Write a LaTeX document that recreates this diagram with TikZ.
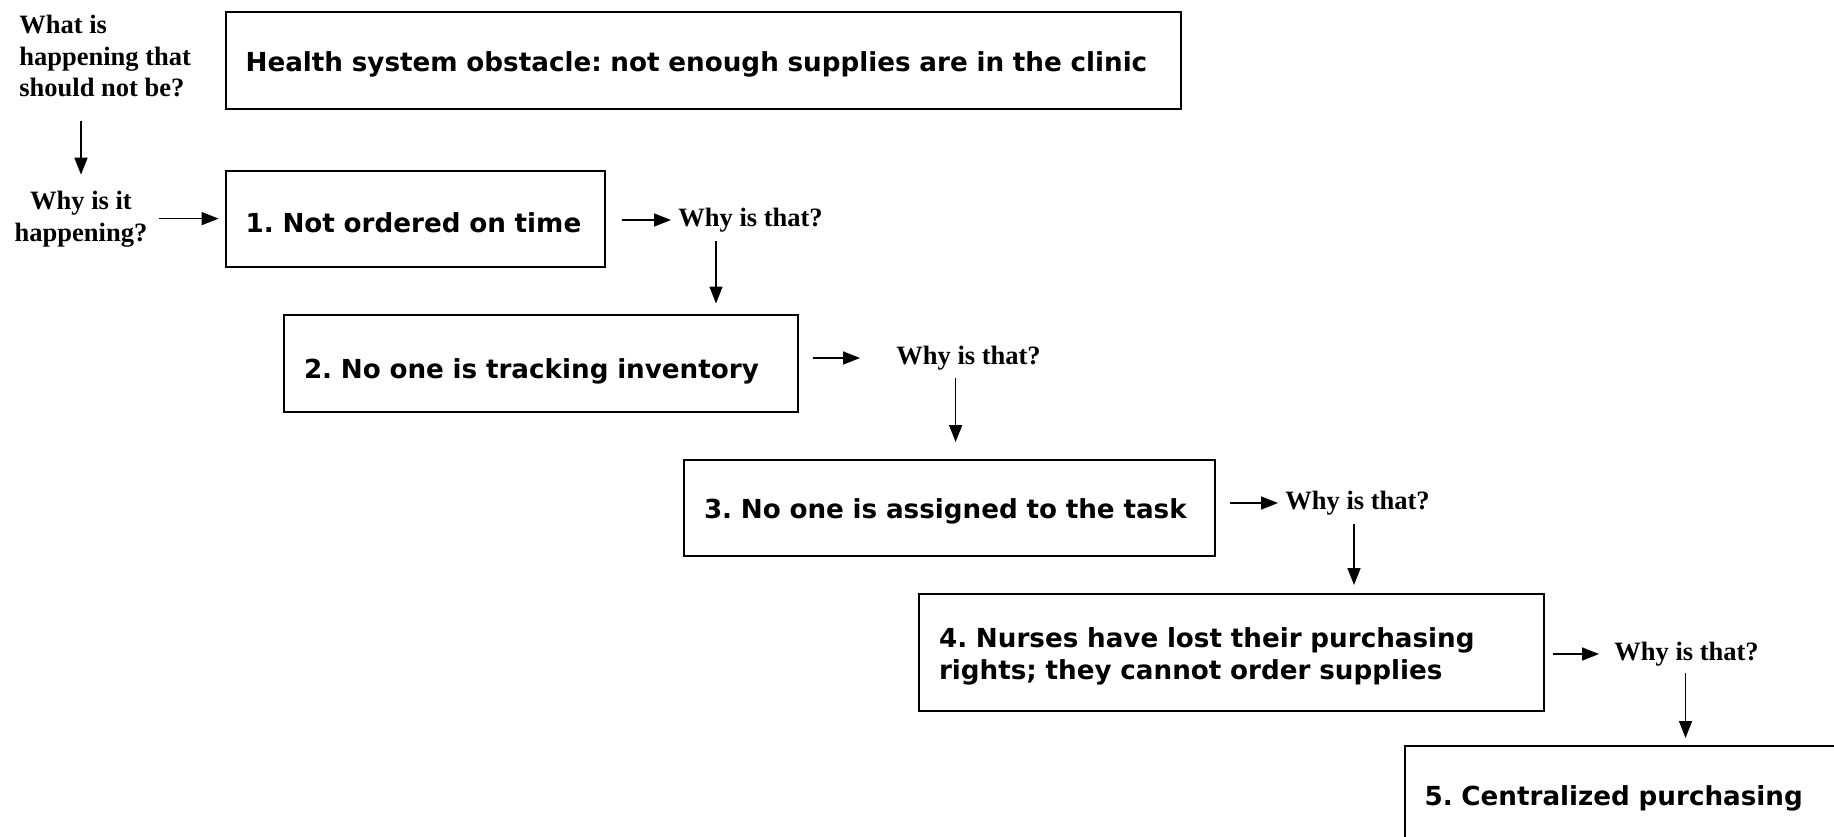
\documentclass[tikz,border=0pt]{standalone}
\usepackage{fontspec}
\setmainfont{Liberation Serif}
\setsansfont{DejaVu Sans}
\usetikzlibrary{arrows.meta,calc}

\tikzset{
	question/.style={font=\bfseries\fontsize{13.25}{15.8}\selectfont, inner sep=0pt},
	obstacle/.style={draw, line width=1pt, anchor=north west, inner xsep=10pt, inner ysep=0pt,
		align=left, font=\sffamily\bfseries\fontsize{13.1}{16}\selectfont,
		execute at begin node={\rule{0pt}{14pt}}},
	arr/.style={line width=0.8pt, -{Triangle[length=8.5pt, width=6.5pt]}}
}

\begin{document}
\frenchspacing
\begin{tikzpicture}[x=0.5pt, y=-0.5pt]
		\useasboundingbox (0, 0) rectangle (1834, 836);
		\clip (0, 0) rectangle (1834, 836);
		% the questions on the left
		\node[question, anchor=west, align=left] (what) at (19, 56) {What is\\happening that\\should not be?};
		\node[question, align=center] (why) at (81, 219) {Why is it\\happening?};
		% the boxes
		\node[obstacle, text width=457.5pt, minimum height=48.5pt] (obstacle) at (224.6, 10.5) {Health system obstacle: not enough supplies are in the clinic};
		\node[obstacle, text width=169.5pt, minimum height=48pt] (cause1) at (224.6, 169.6) {1. Not ordered on time};
		\node[obstacle, text width=236.75pt, minimum height=48.5pt, execute at begin node={\rule{0pt}{18pt}}] (cause2) at (283, 313.5) {2. No one is tracking inventory};
		\node[obstacle, text width=245.5pt, minimum height=48pt] (cause3) at (683, 458.5) {3. No one is assigned to the task};
		\node[obstacle, text width=292.5pt, minimum height=58.5pt] (cause4) at (918, 593) {4. Nurses have lost their purchasing\\rights; they cannot order supplies};
		\node[obstacle, text width=205pt, minimum height=48.5pt] (cause5) at (1403.5, 745) {5. Centralized purchasing};
		% the questions after each box
		\node[question, anchor=west] (that1) at (678, 220) {Why is that?};
		\node[question, anchor=west] (that2) at (896, 358) {Why is that?};
		\node[question, anchor=west] (that3) at (1285, 503) {Why is that?};
		\node[question, anchor=west] (that4) at (1614, 654) {Why is that?};
		% arrows
		\draw[arr] ($(what.south -| why.north) + (0, 24)$) -- ($(why.north) + (0, -16)$);
		\draw[arr] ($(why.east |- cause1.west) + (11, 0)$) -- ($(cause1.west) + (-6, 0)$);
		\draw[arr] ($(cause1.east |- that1.west) + (16, 0)$) -- ($(that1.west) + (-7, 0)$);
		\draw[arr] ($(that1.west) + (38, 21)$) -- ($(that1.west |- cause2.north) + (38, -10)$);
		\draw[arr] ($(cause2.east |- that2.west) + (14, 0)$) -- ($(that2.west) + (-36, 0)$);
		\draw[arr] ($(that2.west) + (59.6, 20)$) -- ($(that2.west |- cause3.north) + (59.6, -16.5)$);
		\draw[arr] ($(cause3.east |- that3.west) + (14, 0)$) -- ($(that3.west) + (-7, 0)$);
		\draw[arr] ($(that3.west) + (69, 21)$) -- ($(that3.west |- cause4.north) + (69, -8)$);
		\draw[arr] ($(cause4.east |- that4.west) + (8, 0)$) -- ($(that4.west) + (-15, 0)$);
		\draw[arr] ($(that4.west) + (71.5, 18.5)$) -- ($(that4.west |- cause5.north) + (71.5, -7)$);
	\end{tikzpicture}
\end{document}
